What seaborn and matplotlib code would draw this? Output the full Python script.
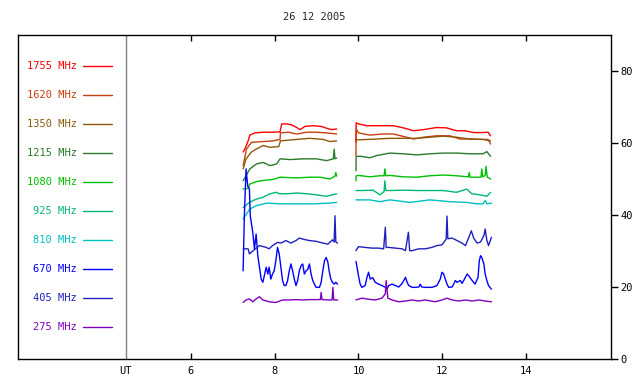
import numpy as np
import pandas as pd
import matplotlib
matplotlib.use("Agg")
import matplotlib.pyplot as plt
import seaborn as sns

# ---------------- data ----------------
freqs = ["1755", "1620", "1350", "1215", "1080", "925", "810", "670", "405", "275"]
colors = ["#ff0000", "#c84010", "#8c5a0a", "#2a7a2a", "#00c000",
          "#00b870", "#00c0c0", "#0000ff", "#2020c0", "#8000c0"]
title = "26 12 2005"
xtick_vals = [4.45, 6, 8, 10, 12, 14]
xtick_labels = ["UT", "6", "8", "10", "12", "14"]
ytick_vals = [0, 20, 40, 60, 80]
data_gap_at = 9.7  # observing break between the two recording segments

t_1755 = [7.25, 7.29, 7.37, 7.41, 7.53, 7.73, 7.97, 8.13, 8.17, 8.29, 8.41, 8.53, 8.61, 8.72, 8.92, 9.12, 9.24, 9.36, 9.48,
          9.94, 9.945, 10.0, 10.2, 10.59, 10.83, 11.07, 11.31, 11.54, 11.86, 12.1, 12.34, 12.54, 12.74, 12.97, 13.09, 13.15]
v_1755 = [57.5, 58.3, 60.6, 62.2, 62.8, 63.0, 63.0, 63.1, 65.3, 65.3, 65.0, 64.3, 63.7, 64.6, 64.8, 64.6, 64.1, 63.7, 63.9,
          60.2, 65.6, 65.3, 64.8, 64.8, 64.8, 64.2, 63.4, 63.7, 64.3, 64.2, 63.4, 63.4, 62.9, 62.9, 63.0, 62.0]

t_1620 = [7.25, 7.33, 7.45, 7.73, 7.97, 8.13, 8.14, 8.33, 8.53, 8.77, 9.0, 9.24, 9.48,
          9.94, 9.945, 10.0, 10.27, 10.59, 10.83, 11.15, 11.31, 11.54, 11.86, 12.18, 12.42, 12.66, 12.9, 13.09, 13.15]
v_1620 = [53.7, 58.3, 60.2, 60.4, 60.6, 61.0, 62.8, 63.0, 62.5, 63.0, 63.0, 62.8, 62.5,
          56.5, 63.9, 62.8, 62.2, 62.5, 62.5, 61.6, 61.1, 61.6, 62.0, 62.0, 61.1, 61.1, 61.0, 61.0, 59.7]

t_1350 = [7.25, 7.32, 7.44, 7.56, 7.73, 7.89, 8.10, 8.14, 8.53, 8.84, 9.16, 9.32, 9.48,
          9.94, 10.05, 10.43, 10.75, 11.07, 11.39, 11.70, 12.02, 12.34, 12.66, 12.97, 13.15]
v_1350 = [52.8, 55.6, 57.4, 58.3, 59.3, 58.8, 59.0, 60.6, 61.0, 61.3, 61.0, 60.4, 60.6,
          60.9, 60.9, 61.1, 61.3, 61.3, 61.3, 61.6, 61.9, 61.6, 61.1, 61.0, 60.6]

t_1215 = [7.25, 7.41, 7.57, 7.73, 7.89, 8.05, 8.13, 8.37, 8.69, 9.0, 9.24, 9.40, 9.42, 9.44, 9.48,
          9.94, 9.945, 10.05, 10.27, 10.43, 10.75, 11.07, 11.39, 11.70, 12.02, 12.34, 12.66, 12.97, 13.06, 13.15]
v_1215 = [49.5, 52.8, 54.2, 54.6, 53.7, 54.2, 55.6, 55.4, 55.6, 55.6, 55.1, 55.6, 58.3, 55.6, 55.8,
          52.3, 56.3, 56.3, 55.9, 56.5, 57.2, 57.0, 56.7, 57.0, 57.2, 57.2, 57.0, 57.0, 57.6, 56.3]

t_1080 = [7.25, 7.37, 7.41, 7.57, 7.73, 7.97, 8.13, 8.53, 8.84, 9.08, 9.32, 9.44, 9.46, 9.48,
          9.94, 9.945, 10.0, 10.27, 10.51, 10.61, 10.63, 10.65, 10.75, 11.07, 11.39, 11.70, 12.02, 12.34,
          12.62, 12.64, 12.66, 12.92, 12.94, 12.96, 13.02, 13.04, 13.07, 13.15]
v_1080 = [47.2, 47.4, 48.6, 49.3, 49.6, 49.9, 50.5, 50.3, 50.5, 50.5, 50.0, 50.8, 51.8, 50.8,
          49.5, 50.9, 51.0, 50.6, 50.9, 50.9, 52.8, 50.9, 51.0, 50.6, 50.5, 50.9, 51.1, 50.9,
          50.6, 51.8, 50.5, 50.5, 52.8, 50.6, 51.0, 53.5, 50.5, 50.0]

t_925 = [7.25, 7.40, 7.56, 7.72, 7.87, 8.03, 8.12, 8.29, 8.53, 8.77, 9.0, 9.24, 9.48,
         9.94, 10.11, 10.35, 10.51, 10.61, 10.63, 10.65, 10.75, 11.07, 11.39, 11.70, 12.02, 12.34, 12.58, 12.70,
         12.90, 13.06, 13.15]
v_925 = [42.1, 43.5, 44.4, 44.9, 45.8, 46.3, 45.9, 45.9, 46.1, 45.9, 45.6, 45.2, 45.9,
         46.8, 46.8, 46.9, 45.6, 46.5, 49.5, 46.8, 46.8, 46.9, 46.8, 46.8, 46.8, 46.3, 47.2, 45.9,
         45.6, 45.2, 46.3]

t_810 = [7.25, 7.41, 7.57, 7.81, 8.13, 8.53, 8.92, 9.32, 9.48,
         9.94, 10.27, 10.51, 10.75, 11.23, 11.70, 12.18, 12.58, 12.82, 12.97, 13.02, 13.06, 13.17]
v_810 = [38.9, 41.7, 42.6, 43.3, 43.1, 43.1, 43.1, 43.3, 43.5,
         44.2, 44.2, 43.7, 44.2, 43.5, 44.2, 43.7, 43.5, 43.1, 43.1, 44.0, 43.1, 43.3]

t_670 = [7.25, 7.28, 7.32, 7.36, 7.40, 7.42, 7.48, 7.52, 7.56, 7.60, 7.64, 7.68, 7.72, 7.80, 7.84, 7.87,
         7.91, 7.95, 7.99, 8.03, 8.07, 8.11, 8.15, 8.19, 8.23, 8.27, 8.31, 8.35, 8.39, 8.43, 8.47, 8.51,
         8.55, 8.59, 8.63, 8.67, 8.71, 8.75, 8.79, 8.83, 8.87, 8.91, 8.95, 8.99, 9.07, 9.11, 9.15, 9.19,
         9.23, 9.27, 9.30, 9.34, 9.38, 9.42, 9.46, 9.50,
         9.94, 9.96, 10.0, 10.04, 10.08, 10.16, 10.20, 10.24, 10.28, 10.34, 10.40, 10.48, 10.56, 10.64,
         10.68, 10.72, 10.80, 10.88, 10.96, 11.04, 11.08, 11.12, 11.16, 11.20, 11.28, 11.35, 11.44, 11.47,
         11.51, 11.59, 11.75, 11.87, 11.95, 11.99, 12.03, 12.07, 12.11, 12.15, 12.23, 12.27, 12.31, 12.35,
         12.43, 12.47, 12.55, 12.59, 12.63, 12.71, 12.78, 12.85, 12.88, 12.91, 12.94, 12.99, 13.02, 13.06,
         13.10, 13.17]
v_670 = [24.5, 40.0, 52.8, 48.0, 47.2, 39.8, 35.2, 30.6, 34.7, 28.7, 25.5, 22.2, 21.3, 25.5, 23.6, 25.5,
         22.2, 23.6, 24.5, 27.3, 31.0, 29.2, 25.5, 21.8, 20.4, 20.4, 21.8, 24.5, 26.4, 24.5, 22.2, 20.4,
         21.8, 24.5, 25.9, 26.4, 23.6, 24.5, 24.9, 26.4, 23.6, 21.8, 20.8, 19.9, 19.9, 21.3, 24.5, 27.3,
         28.2, 26.9, 24.5, 22.2, 21.3, 20.8, 21.3, 20.8,
         27.1, 25.9, 23.1, 20.8, 19.9, 20.4, 22.6, 24.1, 22.2, 22.6, 21.3, 20.8, 20.4, 19.9,
         19.4, 20.4, 20.8, 20.4, 20.0, 21.0, 21.8, 22.7, 21.3, 20.4, 19.9, 19.9, 20.0, 20.8,
         20.0, 19.9, 19.9, 20.4, 22.2, 24.1, 23.6, 22.2, 20.8, 19.9, 20.0, 20.8, 21.8, 21.3,
         21.8, 21.0, 22.7, 23.6, 23.1, 21.8, 20.8, 22.7, 27.3, 28.7, 28.2, 26.4, 23.6, 21.8,
         20.4, 19.4]

t_405 = [7.25, 7.37, 7.40, 7.49, 7.64, 7.80, 7.87, 7.95, 8.07, 8.15, 8.27, 8.39, 8.51, 8.59, 8.67, 8.83,
         8.99, 9.15, 9.27, 9.38, 9.42, 9.44, 9.46, 9.50,
         9.94, 10.00, 10.16, 10.32, 10.48, 10.60, 10.64, 10.66, 10.72, 10.88, 11.04, 11.12, 11.19, 11.22,
         11.28, 11.43, 11.59, 11.75, 11.87, 11.99, 12.09, 12.11, 12.13, 12.23, 12.35, 12.47, 12.55, 12.63,
         12.69, 12.75, 12.83, 12.91, 12.99, 13.02, 13.06, 13.10, 13.17]
v_405 = [30.6, 30.6, 29.2, 30.1, 31.5, 31.0, 30.6, 31.5, 32.4, 32.2, 32.9, 32.2, 32.9, 33.6, 33.3, 32.9,
         32.7, 32.2, 31.9, 33.1, 32.5, 39.8, 32.5, 32.2,
         30.1, 31.2, 31.0, 30.8, 30.8, 30.6, 36.6, 31.0, 31.0, 30.8, 30.6, 30.1, 35.2, 30.1,
         30.1, 30.6, 30.6, 31.0, 31.5, 31.7, 33.3, 39.7, 33.4, 33.6, 32.9, 32.2, 31.5, 33.8,
         35.6, 33.5, 32.2, 32.5, 34.3, 36.1, 33.0, 31.5, 33.8]

t_275 = [7.25, 7.32, 7.40, 7.48, 7.56, 7.64, 7.72, 7.87, 8.03, 8.19, 8.35, 8.51, 8.67, 8.83, 8.99, 9.09,
         9.11, 9.13, 9.30, 9.37, 9.39, 9.41, 9.50,
         9.94, 10.08, 10.24, 10.40, 10.56, 10.64, 10.66, 10.70, 10.80, 10.96, 11.12, 11.28, 11.43, 11.59,
         11.83, 11.99, 12.11, 12.23, 12.39, 12.55, 12.71, 12.87, 13.02, 13.17]
v_275 = [15.7, 16.4, 16.7, 15.9, 16.7, 17.3, 16.4, 15.9, 15.7, 16.4, 16.4, 16.5, 16.4, 16.5, 16.5, 16.5,
         18.5, 16.5, 16.4, 16.4, 19.9, 16.4, 16.4,
         16.4, 16.9, 16.6, 16.4, 16.9, 18.1, 21.8, 16.9, 16.4, 15.9, 16.1, 16.4, 16.1, 16.4,
         15.9, 16.4, 16.9, 16.4, 16.1, 16.4, 16.1, 16.4, 16.1, 15.9]

series_t = [t_1755, t_1620, t_1350, t_1215, t_1080, t_925, t_810, t_670, t_405, t_275]
series_v = [v_1755, v_1620, v_1350, v_1215, v_1080, v_925, v_810, v_670, v_405, v_275]

# ---------------- build long table ----------------
rows = []
for f, ts, vs in zip(freqs, series_t, series_v):
    ts = np.asarray(ts, float)
    seg = (ts > data_gap_at).astype(int)
    rows.append(pd.DataFrame({"t": ts, "v": np.asarray(vs, float), "freq": f, "seg": seg}))
df = pd.concat(rows, ignore_index=True)

# ---------------- style ----------------
sns.set_style("white")
mono = ["DejaVu Sans Mono"]
plt.rcParams["font.family"] = mono
FS = 7.5

fig = plt.figure(figsize=(6.4, 3.84), dpi=100)
ax = fig.add_axes([18 / 640, 25 / 384, 593 / 640, 324 / 384])

pal = dict(zip(freqs, colors))
sns.lineplot(data=df, x="t", y="v", hue="freq", units="seg", estimator=None,
             palette=pal, hue_order=freqs, legend=False, sort=False,
             linewidth=1.0, ax=ax)

ax.set_xlim(1.883, 16.02)
ax.set_ylim(0, 90)

# UT separator line
ax.axvline(4.45, color="#808080", lw=1.0, zorder=1)

# in-plot legend (labels left of the UT line)
for i, (f, c) in enumerate(zip(freqs, colors)):
    y = 81.3 - 8.06 * i
    ax.plot([3.43, 4.12], [y, y], color=c, lw=1.0)
    ax.text(3.29, y, f"{f} MHz", color=c, ha="right", va="center", fontsize=FS, family=mono)

# axes and ticks
for s in ax.spines.values():
    s.set_color("black")
    s.set_linewidth(1.0)

ax.set_xticks(xtick_vals)
ax.set_xticklabels(xtick_labels)
ax.tick_params(axis="x", direction="in", length=4, width=1, top=True, bottom=True,
               labelsize=FS, pad=5, colors="black")
for tk in ax.xaxis.get_major_ticks()[:1]:
    tk.tick1line.set_visible(False)
    tk.tick2line.set_visible(False)

ax.yaxis.tick_right()
ax.set_yticks(ytick_vals)
ax.tick_params(axis="y", direction="out", length=5, width=1, left=False, right=True,
               labelsize=FS, pad=2, colors="black")

ax.set_xlabel("")
ax.set_ylabel("")

fig.text(314.5 / 640, 1 - 17 / 384, title, ha="center", va="center", fontsize=FS, family=mono)

fig.savefig("out.png", dpi=100, facecolor="white")
